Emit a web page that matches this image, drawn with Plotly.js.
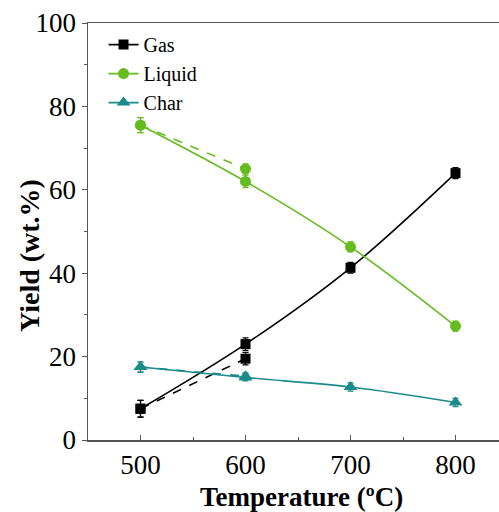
<!DOCTYPE html>
<html>
<head>
<meta charset="utf-8">
<script src="https://cdn.plot.ly/plotly-3.0.1.min.js"></script>
<style>html,body{margin:0;padding:0;overflow:hidden;background:#fff}</style>
</head>
<body>
<div id="chart" style="width:508px;height:512px"></div>
<script>
const temps = [500, 600, 700, 800];
const gas = [7.5, 23.0, 41.3, 64.0];
const gasErr = [2.0, 1.5, 1.3, 1.3];
const liquid = [75.5, 62.0, 46.3, 27.3];
const liquidErr = [1.8, 1.5, 1.2, 1.2];
const charY = [17.5, 15.0, 12.7, 9.0];
const charErr = [1.2, 0.8, 1.0, 1.0];

const dashTemps = [500, 600];
const gasDash = [7.5, 19.5];
const gasDashErr = [2.0, 1.5];
const liquidDash = [75.5, 65.0];
const liquidDashErr = [1.8, 1.2];
const charDash = [17.5, 15.3];
const charDashErr = [1.2, 0.8];

const xTitle = '<b>Temperature (ºC)</b>';
const yTitle = '<b>Yield (wt.%)</b>';

const cGas = '#000000', cLiq = '#66bb1e', cChar = '#1a8a8a';
const FAM = 'Times New Roman';

function tr(x, y, e, name, color, sym, size, dash, legend, shape) {
  return {
    x: x, y: y, name: name, type: 'scatter', mode: 'lines+markers',
    showlegend: legend,
    line: {color: color, width: 1.6, dash: dash, shape: shape || 'linear'},
    marker: {color: color, symbol: sym, size: size},
    error_y: {type: 'data', array: e, visible: true, color: color, thickness: 1.2, width: 3}
  };
}

const data = [
  tr(dashTemps, gasDash, gasDashErr, 'Gas', cGas, 'square', 10, 'dash', false),
  tr(dashTemps, liquidDash, liquidDashErr, 'Liquid', cLiq, 'circle', 11, 'dash', false),
  tr(dashTemps, charDash, charDashErr, 'Char', cChar, 'triangle-up', 12, 'dash', false),
  tr(temps, gas, gasErr, 'Gas', cGas, 'square', 10, 'solid', true, 'spline'),
  tr(temps, liquid, liquidErr, 'Liquid', cLiq, 'circle', 11, 'solid', true, 'spline'),
  tr(temps, charY, charErr, 'Char', cChar, 'triangle-up', 12, 'solid', true, 'spline')
];

const layout = {
  width: 508, height: 512,
  margin: {l: 88, r: 0, t: 23, b: 72},
  paper_bgcolor: '#fff', plot_bgcolor: '#fff',
  font: {family: FAM, size: 27, color: '#000'},
  showlegend: true,
  legend: {x: 0.037, y: 0.995, xanchor: 'left', yanchor: 'top',
           font: {family: FAM, size: 20, color: '#000'},
           bgcolor: 'rgba(0,0,0,0)', tracegroupgap: 0, itemwidth: 30},
  xaxis: {
    range: [450, 850], tickmode: 'array', tickvals: temps,
    ticks: 'inside', ticklen: 5, tickcolor: '#555', tickwidth: 1,
    minor: {dtick: 50, ticks: 'inside', ticklen: 3, tickcolor: '#555'},
    showline: true, linecolor: '#555', linewidth: 1.5, mirror: true,
    showgrid: false, zeroline: false,
    tickfont: {family: FAM, size: 27, color: '#000'}
  },
  yaxis: {
    range: [0, 100], dtick: 20,
    ticks: 'outside', ticklen: 5, tickcolor: '#555', tickwidth: 1,
    minor: {dtick: 10, ticks: 'outside', ticklen: 3, tickcolor: '#555'},
    showline: true, linecolor: '#555', linewidth: 1.5,
    showgrid: false, zeroline: false,
    tickfont: {family: FAM, size: 27, color: '#000'}
  },
  annotations: [
    {text: xTitle, xref: 'paper', yref: 'paper', x: 0.5095, y: -0.137,
     xanchor: 'center', yanchor: 'middle', showarrow: false,
     font: {family: FAM, size: 27, color: '#000'}},
    {text: yTitle, xref: 'paper', yref: 'paper', x: -0.1405, y: 0.4436,
     xanchor: 'center', yanchor: 'middle', showarrow: false, textangle: -90,
     font: {family: FAM, size: 28, color: '#000'}}
  ]
};

Plotly.newPlot('chart', data, layout, {displayModeBar: false, staticPlot: true});
</script>
</body>
</html>
